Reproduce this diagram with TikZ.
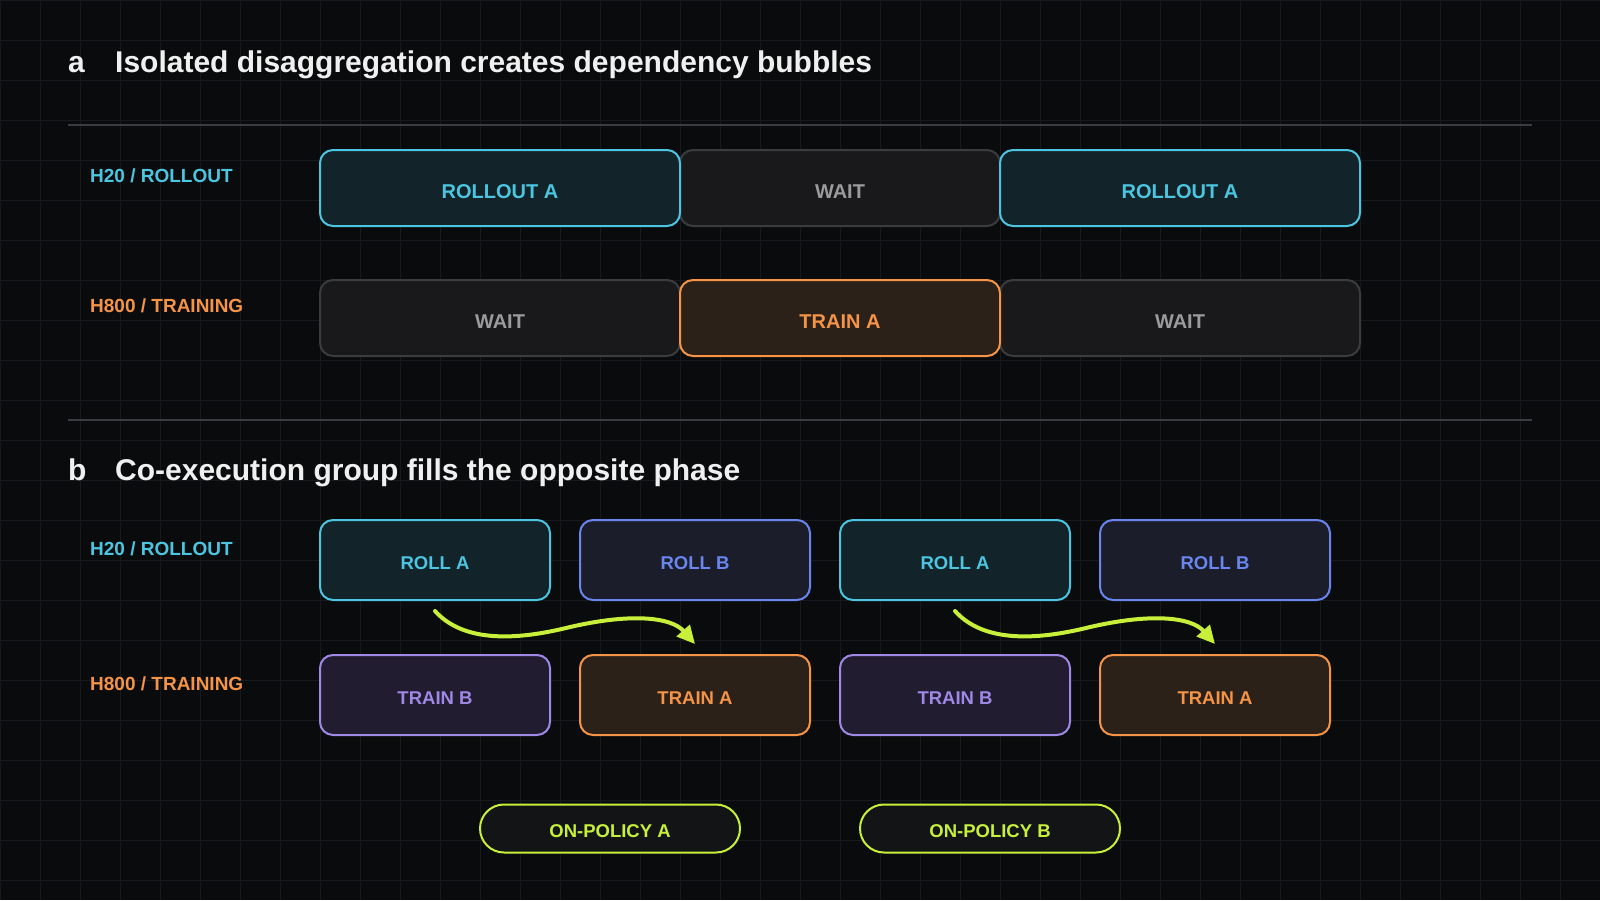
\documentclass[tikz,border=0pt]{standalone}
\usepackage{fontspec}
\setmainfont{Liberation Sans}
\usetikzlibrary{arrows.meta,calc}
\definecolor{bgc}{HTML}{0A0B0D}
\definecolor{gridc}{HTML}{17191C}
\definecolor{rulec}{HTML}{3A3C40}
\definecolor{titlec}{HTML}{F0F0F0}
\definecolor{cyanc}{HTML}{4CC6E0}
\definecolor{cyanf}{HTML}{12232A}
\definecolor{bluec}{HTML}{6A86EE}
\definecolor{bluef}{HTML}{1B1E2A}
\definecolor{purplec}{HTML}{A088E6}
\definecolor{purplef}{HTML}{221C30}
\definecolor{orangec}{HTML}{F59347}
\definecolor{orangef}{HTML}{2C2119}
\definecolor{waitf}{HTML}{19191B}
\definecolor{waitb}{HTML}{3B3C3E}
\definecolor{waitt}{HTML}{9B9B9B}
\definecolor{limec}{HTML}{C8F03A}
\definecolor{pillf}{HTML}{121416}
\begin{document}
\begin{tikzpicture}[x=1pt,y=-1pt,
  gridline/.style={draw=gridc,line width=1pt},
  hrule/.style={draw=rulec,line width=1.5pt},
  titletext/.style={anchor=base west,inner sep=0pt,text=titlec,font=\fontsize{30}{36}\selectfont\bfseries},
  lanelabel/.style={anchor=base west,inner sep=0pt,font=\fontsize{19}{23}\selectfont\bfseries},
  abox/.style={draw,rounded corners=13pt,line width=2pt,inner sep=0pt,minimum height=76pt,text height=20.3pt,text depth=0pt,font=\fontsize{20}{24}\selectfont\bfseries},
  bbox/.style={draw,rounded corners=13pt,line width=2pt,inner sep=0pt,minimum width=230pt,minimum height=80pt,text height=19.2pt,text depth=0pt,font=\fontsize{18.5}{22}\selectfont\bfseries},
  pill/.style={draw=limec,fill=pillf,text=limec,rounded corners=24pt,line width=2pt,inner sep=0pt,minimum width=260pt,minimum height=48pt,text height=17.5pt,text depth=0pt,font=\fontsize{18.5}{22}\selectfont\bfseries},
  rollbox/.style={draw=cyanc,fill=cyanf,text=cyanc},
  rollbbox/.style={draw=bluec,fill=bluef,text=bluec},
  trainabox/.style={draw=orangec,fill=orangef,text=orangec},
  trainbbox/.style={draw=purplec,fill=purplef,text=purplec},
  waitbox/.style={draw=waitb,fill=waitf,text=waitt},
  flow/.style={draw=limec,line width=4pt,line cap=round,-{Triangle[length=18pt,width=17pt]}}
]
\fill[bgc] (0,0) rectangle (1600,900);
\useasboundingbox (0,0) rectangle (1600,900);
\foreach \i in {0,40,...,1600} \draw[gridline] (\i,0) -- (\i,900);
\foreach \j in {0,40,...,880} \draw[gridline] (0,\j) -- (1600,\j);

% section a
\node[titletext] (ta) at (68,72) {a};
\node[titletext] (tatext) at (115,72) {Isolated disaggregation creates dependency bubbles};
\draw[hrule] (68,125) -- (1532,125);
\node[lanelabel,text=cyanc] (la1) at (90,182) {H20 / ROLLOUT};
\node[lanelabel,text=orangec] (la2) at (90,312) {H800 / TRAINING};

\node[abox,waitbox,minimum width=320pt] (aw1) at (840,188) {WAIT};
\node[abox,rollbox,minimum width=360pt] (ar1) at (500,188) {ROLLOUT A};
\node[abox,rollbox,minimum width=360pt] (ar2) at (1180,188) {ROLLOUT A};

\node[abox,waitbox,minimum width=360pt] (aw2) at (500,318) {WAIT};
\node[abox,waitbox,minimum width=360pt] (aw3) at (1180,318) {WAIT};
\node[abox,trainabox,minimum width=320pt] (at1) at (840,318) {TRAIN A};

\draw[hrule] (68,420) -- (1532,420);

% section b
\node[titletext] (tb) at (68,480) {b};
\node[titletext] (tbtext) at (115,480) {Co-execution group fills the opposite phase};
\node[lanelabel,text=cyanc] (lb1) at (90,555) {H20 / ROLLOUT};
\node[lanelabel,text=orangec] (lb2) at (90,690) {H800 / TRAINING};

\node[bbox,rollbox] (bra1) at (435,560) {ROLL A};
\node[bbox,rollbbox] (brb1) at (695,560) {ROLL B};
\node[bbox,rollbox] (bra2) at (955,560) {ROLL A};
\node[bbox,rollbbox] (brb2) at (1215,560) {ROLL B};

\node[bbox,trainbbox] (btb1) at (435,695) {TRAIN B};
\node[bbox,trainabox] (bta1) at (695,695) {TRAIN A};
\node[bbox,trainbbox] (btb2) at (955,695) {TRAIN B};
\node[bbox,trainabox] (bta2) at (1215,695) {TRAIN A};

\node[pill] (opa) at (610,828.5) {ON-POLICY A};
\node[pill] (opb) at (990,828.5) {ON-POLICY B};

% hand-off arrows
\coordinate (s1) at ([yshift=-10pt]bra1.south);
\coordinate (e1) at ([yshift=10pt]bta1.north);
\coordinate (m1) at ($(s1)+(131,17)$);
\draw[flow] (s1) .. controls +(24,26.7) and +(-63.3,15.3) .. (m1)
  .. controls +(63.3,-15.3) and +(-24,-27.3) .. (e1);
\coordinate (s2) at ([yshift=-10pt]bra2.south);
\coordinate (e2) at ([yshift=10pt]bta2.north);
\coordinate (m2) at ($(s2)+(131,17)$);
\draw[flow] (s2) .. controls +(24,26.7) and +(-63.3,15.3) .. (m2)
  .. controls +(63.3,-15.3) and +(-24,-27.3) .. (e2);
\end{tikzpicture}
\end{document}
